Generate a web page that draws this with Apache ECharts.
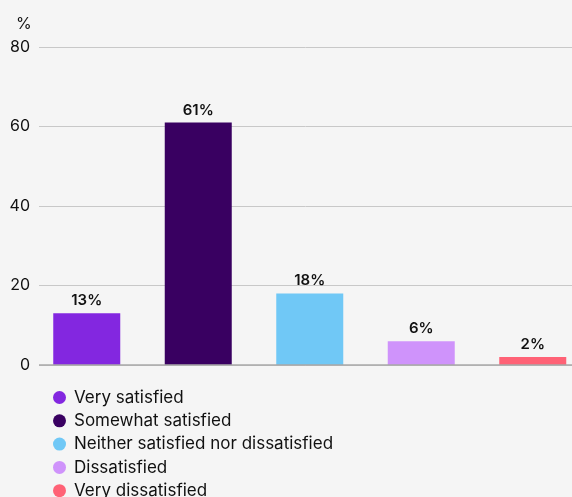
<!DOCTYPE html>
<html><head><meta charset="utf-8">
<script src="https://cdn.jsdelivr.net/npm/echarts@6/dist/echarts.min.js"></script>
<style>html,body{margin:0;padding:0;background:#f5f5f5}#c{width:572px;height:497px}</style>
</head><body><div id="c"></div>
<script>
const categories = ['Very satisfied','Somewhat satisfied','Neither satisfied nor dissatisfied','Dissatisfied','Very dissatisfied'];
const values = [13, 61, 18, 6, 2];
const colors = ['#8327E0','#390061','#70C8F6','#CF93FB','#FF6276'];
const yTicks = [0, 20, 40, 60, 80];
const FONT = 'Inter, "Noto Sans", sans-serif';

// bars placed on a numeric category-index axis so the band can run past the right edge
const series = categories.map((name, i) => ({
  name: name,
  type: 'bar',
  stack: 'all',
  xAxisIndex: 1, yAxisIndex: 1,
  barWidth: 67,
  itemStyle: { color: colors[i] },
  data: [[i, values[i]]],
  label: { show: true, position: 'top', distance: 5, formatter: p => p.value[1] + '%', color: '#111', fontSize: 15, fontWeight: 600, fontFamily: FONT }
}));

const chart = echarts.init(document.getElementById('c'));
chart.setOption({
  backgroundColor: '#f5f5f5',
  animation: false,
  title: { text: '%', left: 11, top: 11, textStyle: { fontSize: 16, fontWeight: 'normal', color: '#111', fontFamily: FONT } },
  grid: [
    { left: 39, right: 0, top: 47, bottom: 132 },
    { left: 31, right: 0, top: 47, bottom: 132 }
  ],
  xAxis: [
    { gridIndex: 0, type: 'category', data: categories, show: false },
    { gridIndex: 1, type: 'value', min: -0.5, max: 4.352, show: false }
  ],
  yAxis: [
    { gridIndex: 0, type: 'value', min: yTicks[0], max: yTicks[yTicks.length-1], interval: 20,
      axisLabel: { color: '#111', fontSize: 16, margin: 9, fontFamily: FONT },
      axisLine: { show: false }, axisTick: { show: false },
      splitLine: { lineStyle: { color: '#c8c8c8', width: 1 } } },
    { gridIndex: 1, type: 'value', min: 0, max: 80, interval: 20, show: false }
  ],
  legend: {
    orient: 'vertical', left: 53, top: 389, height: 140, padding: 0,
    icon: 'circle', itemWidth: 13, itemHeight: 13, itemGap: 6.3,
    textStyle: { fontSize: 17, lineHeight: 16, color: '#111', fontFamily: FONT, padding: [0, 0, 0, 3] },
    data: categories
  },
  graphic: [{
    type: 'line', shape: { x1: 39, y1: 365, x2: 572, y2: 365 },
    style: { stroke: '#a8a8a8', lineWidth: 1.5 }, z: 10
  }],
  series: series
});
</script></body></html>
